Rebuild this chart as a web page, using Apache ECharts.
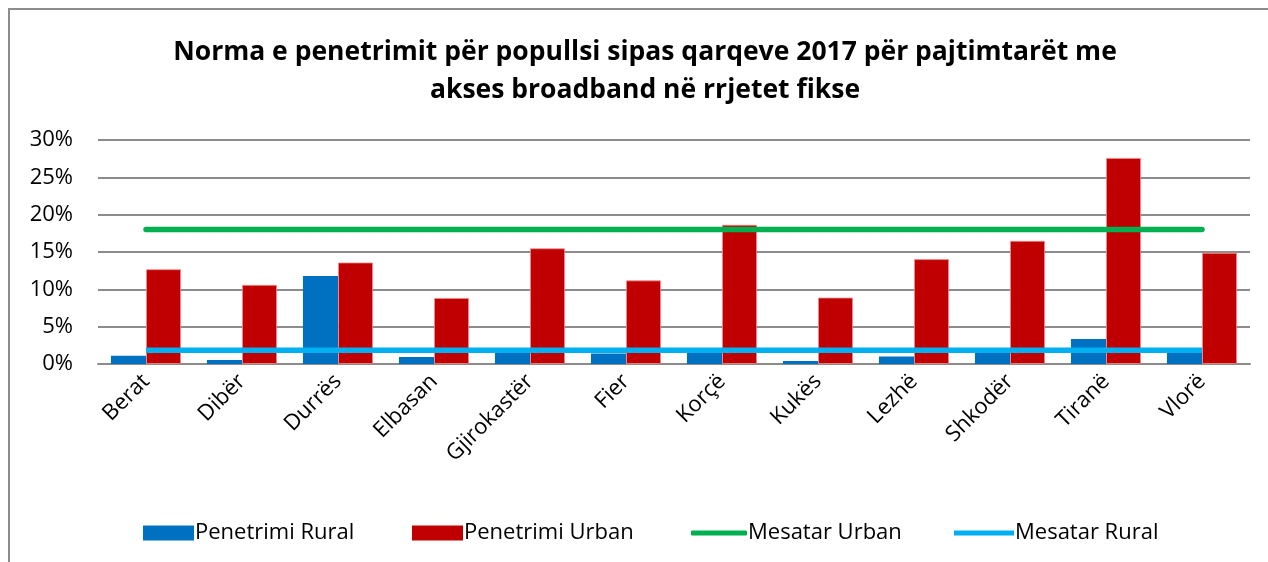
<!DOCTYPE html>
<html>
<head>
<meta charset="utf-8">
<script src="https://cdn.jsdelivr.net/npm/echarts@6/dist/echarts.min.js"></script>
<style>
  html, body { margin: 0; padding: 0; background: #fff; overflow: hidden; }
  #frame { position: absolute; left: 8px; top: 8px; width: 1300px; height: 600px; border: 2px solid #8c8c8c; }
  #chart { position: absolute; left: 0; top: 0; width: 1290px; height: 562px; }
</style>
</head>
<body>
<div id="frame"></div>
<div id="chart"></div>
<script>
const categories = ['Berat', 'Dibër', 'Durrës', 'Elbasan', 'Gjirokastër', 'Fier', 'Korçë', 'Kukës', 'Lezhë', 'Shkodër', 'Tiranë', 'Vlorë']
const penetrimiRural = [1.1, 0.55, 11.8, 0.95, 1.6, 1.4, 1.6, 0.4, 1.0, 1.5, 3.35, 1.6]
const penetrimiUrban = [12.7, 10.6, 13.6, 8.85, 15.5, 11.2, 18.65, 8.9, 14.05, 16.5, 27.6, 14.9]
const mesatarUrban = [18, 18, 18, 18, 18, 18, 18, 18, 18, 18, 18, 18]
const mesatarRural = [1.85, 1.85, 1.85, 1.85, 1.85, 1.85, 1.85, 1.85, 1.85, 1.85, 1.85, 1.85]

const font = '"Open Sans", sans-serif'
const chart = echarts.init(document.getElementById('chart'))

const legendItem = (name, left, w, h, icon) => ({
  data: [{ name: name, icon: icon, itemStyle: { borderWidth: 0 } }],
  left: left,
  top: 517,
  itemWidth: w,
  itemHeight: h,
  itemGap: 0,
  textStyle: { fontFamily: font, fontSize: 22, color: '#000', padding: [0, 0, 0, -4] },
})

chart.setOption({
  animation: false,
  title: {
    text: 'Norma e penetrimit për popullsi sipas qarqeve 2017 për pajtimtarët me\nakses broadband në rrjetet fikse',
    left: 'center',
    top: 28,
    textStyle: { fontFamily: font, fontSize: 26.5, fontWeight: 'bold', color: '#000', lineHeight: 38 },
  },
  grid: { left: 98, right: 40, top: 140, bottom: 198 },
  legend: [
    legendItem('Penetrimi Rural', 138, 51, 15, 'rect'),
    legendItem('Penetrimi Urban', 407, 51, 15, 'rect'),
    legendItem('Mesatar Urban', 686, 56, 5, 'roundRect'),
    legendItem('Mesatar Rural', 949, 60, 5, 'rect'),
  ],
  xAxis: {
    type: 'category',
    data: categories,
    axisTick: { show: false },
    axisLine: { lineStyle: { color: '#8c8c8c', width: 2 } },
    axisLabel: { rotate: 45, fontFamily: font, fontSize: 22, color: '#000', margin: 14 },
  },
  yAxis: {
    type: 'value',
    min: 0,
    max: 30,
    interval: 5,
    axisLine: { show: false },
    axisTick: { show: false },
    splitLine: { lineStyle: { color: '#8c8c8c', width: 2 } },
    axisLabel: { formatter: '{value}%', fontFamily: font, fontSize: 22, color: '#000', margin: 25 },
  },
  series: [
    {
      name: 'Penetrimi Rural',
      type: 'bar',
      data: penetrimiRural,
      barGap: '0%',
      barCategoryGap: '27%',
      itemStyle: { color: '#0070C0' },
    },
    {
      name: 'Penetrimi Urban',
      type: 'bar',
      data: penetrimiUrban,
      itemStyle: { color: '#C00000', borderColor: 'rgba(240,140,140,0.8)', borderWidth: 1 },
    },
    {
      name: 'Mesatar Urban',
      type: 'line',
      data: mesatarUrban,
      symbol: 'none',
      z: 5,
      lineStyle: { color: '#00B050', width: 5.5, cap: 'round' },
      itemStyle: { color: '#00B050' },
    },
    {
      name: 'Mesatar Rural',
      type: 'line',
      data: mesatarRural,
      symbol: 'none',
      z: 5,
      lineStyle: { color: '#00B0F0', width: 5.5, cap: 'butt' },
      itemStyle: { color: '#00B0F0' },
    },
  ],
})
</script>
</body>
</html>
